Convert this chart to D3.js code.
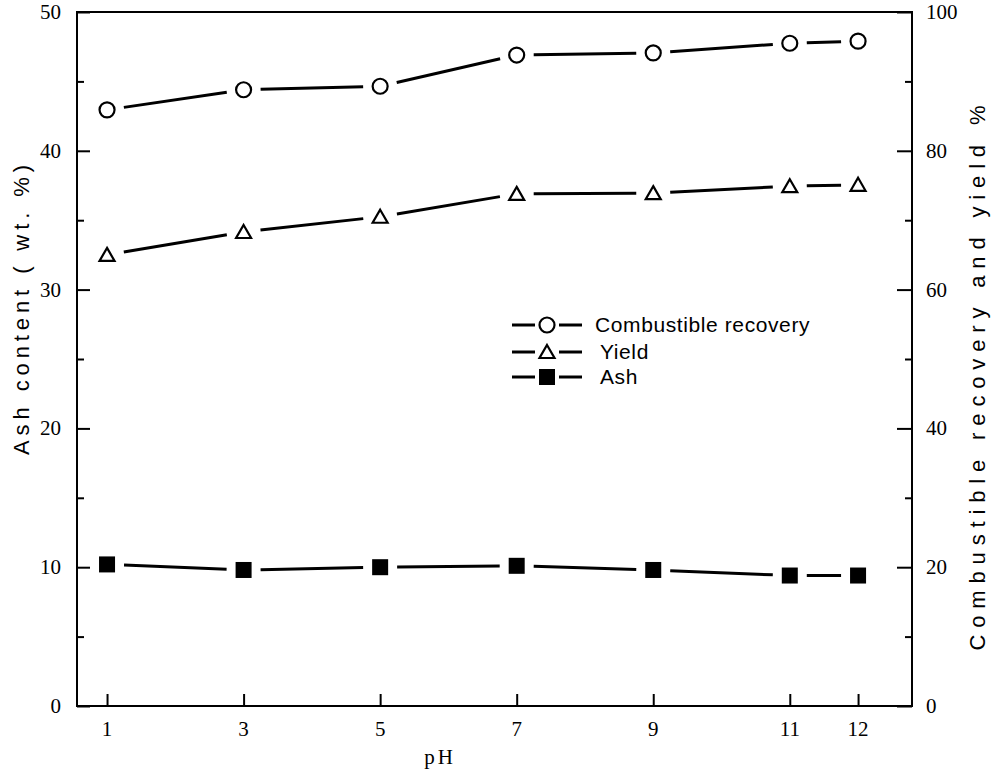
<!DOCTYPE html>
<meta charset="utf-8">
<style>
body { margin: 0; background: #fff; }
svg { display: block; }
.tick-label { font: 21px "Liberation Serif", serif; fill: #000; }
.title { font: 22px "Liberation Sans", sans-serif; fill: #000; }
.legend-text { font: 21px "Liberation Sans", sans-serif; fill: #000; }
</style>
<svg width="992" height="769"></svg>
<script src="https://cdnjs.cloudflare.com/ajax/libs/d3/7.8.5/d3.min.js"></script>
<script>

// data
var pH = [1, 3, 5, 7, 9, 11, 12];
var recovery = [85.9, 88.8, 89.3, 93.8, 94.1, 95.5, 95.8];   // right axis
var yieldPct = [65.0, 68.3, 70.5, 73.8, 73.9, 74.9, 75.1];   // right axis
var ash = [10.2, 9.8, 10.0, 10.1, 9.8, 9.4, 9.4];            // left axis

var xTicks = [1, 3, 5, 7, 9, 11, 12];
var leftTicks = [0, 10, 20, 30, 40, 50];
var rightTicks = [0, 20, 40, 60, 80, 100];

var svg = d3.select("svg");

var plotL = 77, plotR = 912, plotT = 12, plotB = 706;

var x = d3.scaleLinear().domain([0.56, 12.79]).range([plotL, plotR]);
var yL = d3.scaleLinear().domain([0, 50]).range([plotB, plotT]);
var yR = d3.scaleLinear().domain([0, 100]).range([plotB, plotT]);

// frame
svg.append("rect")
    .attr("x", plotL).attr("y", plotT)
    .attr("width", plotR - plotL).attr("height", plotB - plotT)
    .attr("fill", "none").attr("stroke", "#000").attr("stroke-width", 2);

// left axis ticks (inward)
svg.append("g")
    .attr("transform", "translate(" + plotL + ",0)")
    .call(d3.axisRight(yL).tickValues(d3.range(0, 51, 5)).tickSize(0).tickFormat(""))
    .call(g => g.select(".domain").remove())
    .call(g => g.selectAll(".tick line")
        .attr("x2", d => d % 10 === 0 ? 13 : 7)
        .attr("stroke", "#000").attr("stroke-width", 2));

svg.append("g")
    .selectAll("text").data(leftTicks).enter().append("text")
    .attr("class", "tick-label")
    .attr("x", 61).attr("y", d => yL(d) + 7)
    .attr("text-anchor", "end")
    .text(d => d);

// right axis ticks (inward)
svg.append("g")
    .attr("transform", "translate(" + plotR + ",0)")
    .call(d3.axisLeft(yR).tickValues(d3.range(0, 101, 10)).tickSize(0).tickFormat(""))
    .call(g => g.select(".domain").remove())
    .call(g => g.selectAll(".tick line")
        .attr("x2", d => d % 20 === 0 ? -15 : -7)
        .attr("stroke", "#000").attr("stroke-width", 2));

svg.append("g")
    .selectAll("text").data(rightTicks).enter().append("text")
    .attr("class", "tick-label")
    .attr("x", 926).attr("y", d => yR(d) + 7)
    .attr("text-anchor", "start")
    .text(d => d);

// bottom axis ticks (inward)
svg.append("g")
    .attr("transform", "translate(0," + plotB + ")")
    .call(d3.axisTop(x).tickValues(xTicks).tickSize(12).tickFormat(""))
    .call(g => g.select(".domain").remove())
    .call(g => g.selectAll(".tick line").attr("stroke", "#000").attr("stroke-width", 2));

svg.append("g")
    .selectAll("text").data(xTicks).enter().append("text")
    .attr("class", "tick-label")
    .attr("x", d => x(d)).attr("y", 736)
    .attr("text-anchor", "middle")
    .text(d => d);

// axis titles
svg.append("text")
    .attr("class", "tick-label")
    .attr("x", 440).attr("y", 764)
    .attr("text-anchor", "middle")
    .attr("letter-spacing", 3)
    .text("pH");

svg.append("text")
    .attr("class", "title")
    .attr("transform", "translate(29,310) rotate(-90)")
    .attr("text-anchor", "middle")
    .attr("textLength", 290).attr("lengthAdjust", "spacing")
    .text("Ash  content ( wt. %)");

svg.append("text")
    .attr("class", "title")
    .attr("transform", "translate(985,378) rotate(-90)")
    .attr("text-anchor", "middle")
    .attr("textLength", 545).attr("lengthAdjust", "spacing")
    .text("Combustible recovery and yield %");

// series
var series = [
  {name: "Combustible recovery", values: recovery, y: yR, marker: "circle"},
  {name: "Yield", values: yieldPct, y: yR, marker: "triangle"},
  {name: "Ash", values: ash, y: yL, marker: "square"}
];

var gap = 17;

function drawMarker(g, type, cx, cy) {
  if (type === "circle") {
    g.append("circle").attr("cx", cx).attr("cy", cy).attr("r", 7.5)
      .attr("fill", "#fff").attr("stroke", "#000").attr("stroke-width", 2.2);
  } else if (type === "triangle") {
    g.append("path")
      .attr("d", "M" + cx + "," + (cy - 7) + "L" + (cx + 7.5) + "," + (cy + 6) + "L" + (cx - 7.5) + "," + (cy + 6) + "Z")
      .attr("fill", "#fff").attr("stroke", "#000").attr("stroke-width", 2.2);
  } else {
    g.append("rect").attr("x", cx - 8).attr("y", cy - 8).attr("width", 16).attr("height", 16)
      .attr("fill", "#000");
  }
}

series.forEach(function(s) {
  var g = svg.append("g");
  var pts = pH.map((p, i) => [x(p), s.y(s.values[i])]);
  for (var i = 0; i < pts.length - 1; i++) {
    var a = pts[i], b = pts[i + 1];
    var dx = b[0] - a[0], dy = b[1] - a[1], len = Math.sqrt(dx * dx + dy * dy);
    var ux = dx / len, uy = dy / len;
    g.append("line")
      .attr("x1", a[0] + ux * gap).attr("y1", a[1] + uy * gap)
      .attr("x2", b[0] - ux * gap).attr("y2", b[1] - uy * gap)
      .attr("stroke", "#000").attr("stroke-width", 3);
  }
  pts.forEach(p => drawMarker(g, s.marker, p[0], p[1]));
});

// legend
var legendRows = [325, 352, 377];
var legend = svg.append("g");
series.forEach(function(s, i) {
  var cy = legendRows[i];
  legend.append("line").attr("x1", 512).attr("x2", 535).attr("y1", cy).attr("y2", cy)
    .attr("stroke", "#000").attr("stroke-width", 3);
  legend.append("line").attr("x1", 559).attr("x2", 582).attr("y1", cy).attr("y2", cy)
    .attr("stroke", "#000").attr("stroke-width", 3);
  drawMarker(legend, s.marker, 547, cy);
  legend.append("text")
    .attr("class", "legend-text")
    .attr("x", i === 0 ? 595 : 600).attr("y", cy + 7)
    .attr("letter-spacing", 0.6)
    .text(s.name);
});

</script>
